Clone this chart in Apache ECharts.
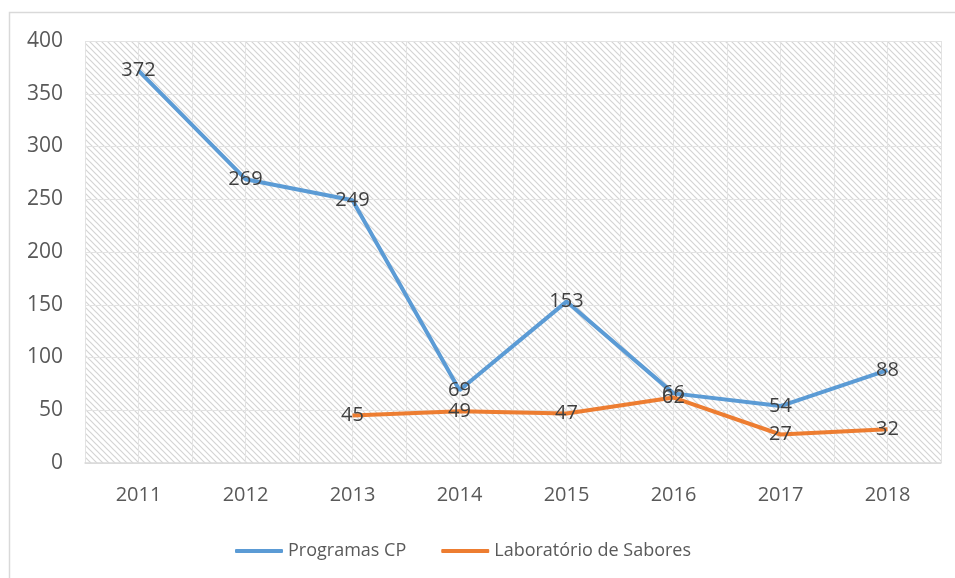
<!DOCTYPE html>
<html>
<head>
<meta charset="utf-8">
<script src="https://cdn.jsdelivr.net/npm/echarts@6/dist/echarts.min.js"></script>
<style>
  html, body { margin: 0; padding: 0; background: #fff; }
  #chart { width: 955px; height: 578px; }
</style>
</head>
<body>
<div id="chart"></div>
<script>
const YEARS = ['2011', '2012', '2013', '2014', '2015', '2016', '2017', '2018'];
const PROGRAMAS_CP = [372, 269, 249, 69, 153, 66, 54, 88];
const LAB_SABORES = [null, null, 45, 49, 47, 62, 27, 32];
const HALF_STEPS = Array.from({ length: YEARS.length * 2 }, (_, i) => 'h' + i);

function makeHatch() {
    const size = 6;
    const c = document.createElement('canvas');
    c.width = size;
    c.height = size;
    const ctx = c.getContext('2d');
    ctx.fillStyle = '#ffffff';
    ctx.fillRect(0, 0, size, size);
    ctx.strokeStyle = '#d4d4d4';
    ctx.lineWidth = 1.2;
    ctx.beginPath();
    ctx.moveTo(-1, -1); ctx.lineTo(size + 1, size + 1);
    ctx.moveTo(-1, size - 1); ctx.lineTo(1, size + 1);
    ctx.moveTo(size - 1, -1); ctx.lineTo(size + 1, 1);
    ctx.stroke();
    return c;
}

const chart = echarts.init(document.getElementById('chart'));

const labelStyle = {
    show: true,
    position: 'inside',
    color: '#404040',
    fontSize: 20,
    fontFamily: 'Open Sans'
};

chart.setOption({
    animation: false,
    textStyle: { fontFamily: 'Open Sans' },
    graphic: [{
        type: 'rect',
        shape: { x: 9.5, y: 12.5, width: 1000, height: 600 },
        style: { fill: 'none', stroke: '#d9d9d9', lineWidth: 1.5 },
        silent: true
    }],
    grid: {
        left: 85, right: 14, top: 41, bottom: 115,
        show: true,
        borderWidth: 0,
        backgroundColor: { image: makeHatch(), repeat: 'repeat' }
    },
    legend: {
        bottom: 13,
        left: 230,
        itemWidth: 48,
        itemHeight: 4,
        itemGap: 35,
        icon: 'roundRect',
        textStyle: { color: '#595959', fontSize: 18, fontFamily: 'Open Sans' },
        data: ['Programas CP', 'Laboratório de Sabores']
    },
    xAxis: [{
        type: 'category',
        data: YEARS,
        boundaryGap: true,
        axisLine: { show: true, lineStyle: { color: '#d9d9d9', width: 1.5 } },
        axisTick: { show: false },
        axisLabel: { color: '#595959', fontSize: 20, margin: 22 },
        splitLine: { show: false }
    }, {
        type: 'category',
        data: HALF_STEPS,
        boundaryGap: true,
        position: 'bottom',
        axisLine: { show: false },
        axisTick: { show: false },
        axisLabel: { show: false },
        splitLine: { show: true, interval: 0, lineStyle: { color: '#e3e3e3', width: 1 } }
    }],
    yAxis: {
        type: 'value',
        min: 0,
        max: 400,
        interval: 50,
        axisLine: { show: false },
        axisTick: { show: false },
        axisLabel: { color: '#595959', fontSize: 21, margin: 22 },
        splitLine: { lineStyle: { color: '#e3e3e3', width: 1 } }
    },
    series: [{
        name: 'Programas CP',
        type: 'line',
        data: PROGRAMAS_CP,
        xAxisIndex: 0,
        symbol: 'circle',
        symbolSize: 0.01,
        lineStyle: { color: '#5B9BD5', width: 4 },
        itemStyle: { color: '#5B9BD5' },
        label: labelStyle,
        z: 3
    }, {
        name: 'Laboratório de Sabores',
        type: 'line',
        data: LAB_SABORES,
        xAxisIndex: 0,
        symbol: 'circle',
        symbolSize: 0.01,
        lineStyle: { color: '#ED7D31', width: 4 },
        itemStyle: { color: '#ED7D31' },
        label: labelStyle,
        z: 4
    }]
});
</script>
</body>
</html>
